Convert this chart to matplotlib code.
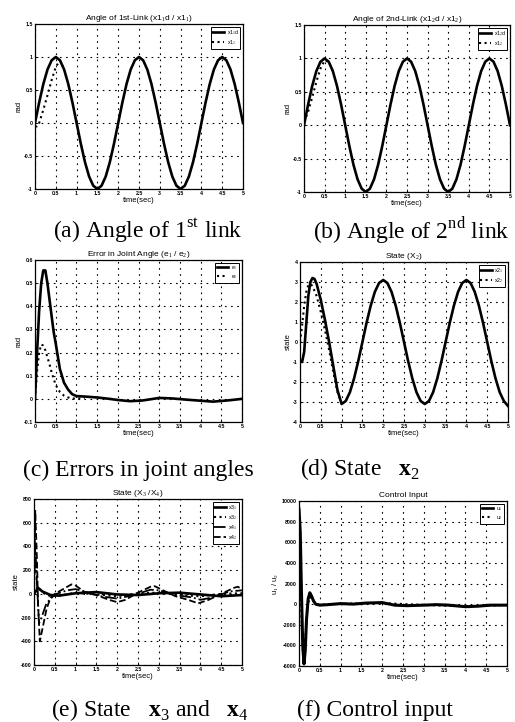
import numpy as np
import matplotlib
matplotlib.use("Agg")
import matplotlib.pyplot as plt

plt.rcParams["font.family"] = ["Liberation Sans", "DejaVu Sans"]
plt.rcParams["mathtext.fontset"] = "custom"
plt.rcParams["mathtext.rm"] = "Liberation Serif"
plt.rcParams["mathtext.bf"] = "Liberation Serif:bold"

# %%
# (a)/(b) desired joint angle, sampled every 0.1 s
t_sine = np.round(np.arange(0, 5.01, 0.1), 2)
x1_d = [0, .31, .59, .81, .95, 1, .95, .81, .59, .31,
        0, -.31, -.59, -.81, -.95, -1, -.95, -.81, -.59, -.31,
        0, .31, .59, .81, .95, 1, .95, .81, .59, .31,
        0, -.31, -.59, -.81, -.95, -1, -.95, -.81, -.59, -.31,
        0, .31, .59, .81, .95, 1, .95, .81, .59, .31, 0]

t_x11 = [0, 0.05, 0.1, 0.2, 0.3, 0.4, 0.5, 0.6, 0.7]
x11 = [-0.05, -0.05, 0.0, 0.2, 0.42, 0.65, 0.85, 0.95, 0.81]

t_x12 = [0, 0.1, 0.2, 0.3, 0.4, 0.5, 0.6, 0.7]
x12 = [0.05, 0.2, 0.42, 0.65, 0.85, 0.97, 0.95, 0.81]

# (c) errors
t_e1 = [0, 0.05, 0.1, 0.15, 0.2, 0.25, 0.3, 0.35, 0.4, 0.45, 0.5, 0.6, 0.7, 0.8,
        0.9, 1.0, 1.2, 1.5, 1.8, 2.0, 2.3, 2.6, 3.0, 3.3, 3.7, 4.0, 4.3, 4.7, 5.0]
e1 = [0, 0.2, 0.38, 0.5, 0.555, 0.555, 0.5, 0.43, 0.36, 0.29, 0.24, 0.13, 0.07, 0.04,
      0.02, 0.012, 0.01, 0.006, 0.0, -0.005, -0.01, -0.007, 0.004, 0.002, -0.004,
      -0.008, -0.012, -0.006, 0.0]
t_e2 = [0, 0.05, 0.1, 0.15, 0.2, 0.25, 0.3, 0.35, 0.4, 0.5, 0.6, 0.7, 0.8, 0.9, 1.0, 1.2]
e2 = [0, 0.12, 0.2, 0.235, 0.23, 0.21, 0.18, 0.15, 0.115, 0.06, 0.03, 0.014, 0.006,
      0.002, 0.0, 0.005]

# (d) state x2
t_x2 = [0, 0.05, 0.1, 0.15, 0.2, 0.25, 0.3, 0.35, 0.4, 0.5, 0.6, 0.7, 0.8, 0.9,
        1.0, 1.1, 1.2, 1.3, 1.4, 1.5, 1.6, 1.7, 1.8, 1.9,
        2.0, 2.1, 2.2, 2.3, 2.4, 2.5, 2.6, 2.7, 2.8, 2.9,
        3.0, 3.1, 3.2, 3.3, 3.4, 3.5, 3.6, 3.7, 3.8, 3.9,
        4.0, 4.1, 4.2, 4.3, 4.4, 4.5, 4.6, 4.7, 4.8, 4.9, 5.0]
x21 = [-0.9, -1.0, -0.5, 0.9, 2.3, 3.0, 3.2, 3.15, 2.9, 2.1, 1.1, 0.0, -1.2, -2.4,
       -3.1, -2.95, -2.51, -1.82, -0.96, 0, 0.96, 1.82, 2.51, 2.95,
       3.1, 2.95, 2.51, 1.82, 0.96, 0, -0.96, -1.82, -2.51, -2.95,
       -3.1, -2.95, -2.51, -1.82, -0.96, 0, 0.96, 1.82, 2.51, 2.95,
       3.1, 2.95, 2.51, 1.82, 0.96, 0, -0.96, -1.82, -2.51, -2.95, -3.2]
t_x22 = [0, 0.05, 0.1, 0.15, 0.2, 0.25, 0.3, 0.4, 0.5, 0.6, 0.7, 0.8, 0.9, 1.0]
x22 = [0.0, 0.8, 1.8, 2.5, 2.85, 2.9, 2.8, 2.3, 1.5, 0.6, -0.4, -1.5, -2.5, -3.05]

# (e) states x3 / x4
t_x31 = [0, 0.1, 0.2, 0.4, 0.6, 1.0, 1.5, 2.0, 2.5, 3.0, 3.5, 4.0, 4.5, 5.0]
x31 = [0, 50, 20, -10, -15, 5, 15, -5, -10, 5, 10, -5, -20, -10]
t_x32 = [0, 0.05, 0.1, 0.2, 0.4, 0.7, 1.0, 1.5, 2.0, 2.5, 3.0, 3.5, 4.0, 4.5, 5.0]
x32 = [0, 40, 60, 10, -20, -10, 10, -5, -20, 5, 10, -10, -20, 0, 5]
t_x41 = [0, 0.03, 0.07, 0.12, 0.18, 0.3, 0.5, 0.8, 1.0, 1.3, 1.6, 2.0, 2.4, 2.8,
         3.0, 3.4, 3.8, 4.0, 4.3, 4.7, 5.0]
x41 = [0, 400, 100, -250, -200, -80, -5, 30, 40, 10, -20, -40, -10, 35,
       30, -10, -30, -50, -30, 20, 30]
t_x42 = [0, 0.03, 0.07, 0.1, 0.14, 0.2, 0.3, 0.4, 0.5, 0.7, 0.9, 1.0, 1.2, 1.5,
         1.8, 2.0, 2.2, 2.5, 2.8, 2.9, 3.1, 3.4, 3.7, 3.95, 4.2, 4.5, 4.8, 4.9, 5.0]
x42 = [0, 700, 300, -100, -400, -300, -130, -30, 0, 40, 80, 70, 20, -10,
       -50, -70, -50, 10, 60, 65, 30, -20, -50, -80, -50, 0, 50, 60, 40]

# (f) control input
t_u1 = [0, 0.03, 0.06, 0.09, 0.12, 0.15, 0.18, 0.22, 0.26, 0.3, 0.35, 0.4, 0.5,
        0.7, 1.0, 1.3, 1.6, 2.0, 2.3, 2.6, 3.0, 3.3, 3.6, 4.0, 4.3, 4.6, 5.0]
u1 = [9200, 7000, 1000, -4000, -5800, -4500, -1500, 500, 1100, 800, 300, 0, -100,
      -50, 50, 0, 100, 150, -100, -150, -100, -50, -100, -250, -200, -100, -100]
t_u2 = [0, 0.03, 0.06, 0.09, 0.12, 0.15, 0.2, 0.25, 0.3, 0.4, 0.5, 1.0, 2.0, 3.0, 4.0, 5.0]
u2 = [8000, 5000, -1000, -4500, -5000, -3500, -500, 700, 600, 50, -50, 30, 100, -80, -200, -80]

# %%
W, H = 515, 722
fig = plt.figure(figsize=(W / 100, H / 100), dpi=100)


def make_ax(xl, xr, yt, yb):
    return fig.add_axes([xl / W, 1 - yb / H, (xr - xl) / W, (yb - yt) / H])


def style(ax, title, ylabel, yticks, ylabels):
    ax.set_xlim(0, 5)
    ax.set_ylim(yticks[0], yticks[-1])
    ax.set_xticks(np.arange(0, 5.01, 0.5))
    ax.set_xticklabels(["0", "0.5", "1", "1.5", "2", "2.5", "3", "3.5", "4", "4.5", "5"])
    ax.set_yticks(yticks)
    ax.set_yticklabels(ylabels)
    ax.tick_params(labelsize=3.8, length=2, width=0.6, direction="in", pad=1.5)
    for lab in ax.get_xticklabels() + ax.get_yticklabels():
        lab.set_fontweight("bold")
    ax.grid(True, color="black", linestyle=(0, (1.5, 4)), linewidth=0.8)
    ax.set_title(title, fontsize=6, pad=3)
    ax.set_xlabel("time(sec)", fontsize=5.5, labelpad=1)
    ax.set_ylabel(ylabel, fontsize=5.5, labelpad=1)
    for s in ax.spines.values():
        s.set_linewidth(0.9)


def legend(ax, labels, styles):
    handles = [plt.Line2D([], [], color="black", **st) for st in styles]
    lg = ax.legend(handles, labels, loc="upper right", fontsize=3.8,
                   handlelength=2.2, borderpad=0.3, labelspacing=0.2,
                   handletextpad=0.5, fancybox=False, framealpha=1)
    lg.get_frame().set_edgecolor("black")
    lg.get_frame().set_linewidth(0.7)


solid = dict(linestyle="-", linewidth=1.9)
dots = dict(linestyle=":", linewidth=1.5)
dashdot = dict(linestyle="-.", linewidth=1.3)
dashed = dict(linestyle="--", linewidth=1.3)

ab_ticks = [-1, -0.5, 0, 0.5, 1, 1.5]
ab_labels = ["-1", "-0.5", "0", "0.5", "1", "1.5"]

# (a)
ax = make_ax(35, 243, 24, 189)
ax.plot(t_x11, x11, color="black", **dots)
ax.plot(t_sine, x1_d, color="black", **solid)
style(ax, r"Angle of 1st-Link (x1$_1$d / x1$_1$)", "rad", ab_ticks, ab_labels)
legend(ax, [r"x1$_1$d", r"x1$_1$"], [solid, dots])

# (b)
ax = make_ax(304, 510, 25, 192)
ax.plot(t_x12, x12, color="black", **dots)
ax.plot(t_sine, x1_d, color="black", **solid)
style(ax, r"Angle of 2nd-Link (x1$_2$d / x1$_2$)", "rad", ab_ticks, ab_labels)
legend(ax, [r"x1$_2$d", r"x1$_2$"], [solid, dots])

# (c)
ax = make_ax(35, 242, 260, 422)
ax.plot(t_e2, e2, color="black", **dots)
ax.plot(t_e1, e1, color="black", **solid)
style(ax, r"Error in Joint Angle (e$_1$ / e$_2$)", "rad",
      [-0.1, 0, 0.1, 0.2, 0.3, 0.4, 0.5, 0.6],
      ["-0.1", "0", "0.1", "0.2", "0.3", "0.4", "0.5", "0.6"])
legend(ax, [r"e$_1$", r"e$_2$"], [solid, dots])

# (d)
ax = make_ax(300, 508, 262, 422)
ax.plot(t_x22, x22, color="black", **dots)
ax.plot(t_x2, x21, color="black", **solid)
style(ax, r"State (X$_2$)", "state", list(range(-4, 5)),
      [str(v) for v in range(-4, 5)])
legend(ax, [r"x2$_1$", r"x2$_2$"], [solid, dots])

# (e)
ax = make_ax(34, 242, 499, 665)
ax.plot(t_x42, x42, color="black", **dashed)
ax.plot(t_x41, x41, color="black", **dashdot)
ax.plot(t_x32, x32, color="black", **dots)
ax.plot(t_x31, x31, color="black", **solid)
e_ticks = list(range(-600, 801, 200))
style(ax, r"State (X$_3$ /X$_4$)", "state", e_ticks, [str(v) for v in e_ticks])
legend(ax, [r"x3$_1$", r"x3$_2$", r"x4$_1$", r"x4$_2$"], [solid, dots, dashdot, dashed])

# (f)
ax = make_ax(299, 507, 501, 666)
ax.plot(t_u2, u2, color="black", **dots)
ax.plot(t_u1, u1, color="black", linestyle="-", linewidth=2.2)
f_ticks = list(range(-6000, 10001, 2000))
style(ax, "Control Input", r"u$_1$ / u$_2$", f_ticks, [str(v) for v in f_ticks])
legend(ax, [r"u$_1$", r"u$_2$"], [solid, dots])

# captions
cap = dict(fontsize=17, family="Liberation Serif", ha="center", va="center")
fig.text(148 / W, 1 - 231 / H, r"(a) Angle of 1$^{\rm st}$ link", **cap)
fig.text(411 / W, 1 - 231 / H, r"(b) Angle of 2$^{\rm nd}$ link", **cap)
fig.text(138 / W, 1 - 470 / H, "(c) Errors in joint angles", **cap)
fig.text(360 / W, 1 - 469 / H, r"(d) State   $\mathbf{x}_2$", **cap)
fig.text(150 / W, 1 - 710 / H, r"(e) State   $\mathbf{x}_3$ and   $\mathbf{x}_4$", **cap)
fig.text(375 / W, 1 - 710 / H, "(f) Control input", **cap)

fig.savefig("out.png", dpi=100)
